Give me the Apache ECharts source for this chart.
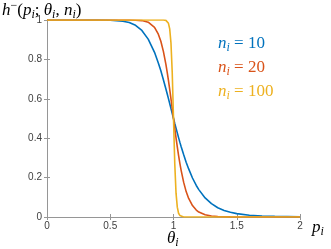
<!DOCTYPE html>
<html><head><meta charset="utf-8">
<script src="https://cdn.jsdelivr.net/npm/echarts@6/dist/echarts.min.js"></script>
<style>html,body{margin:0;padding:0;background:#fff}#c{width:331px;height:249px}</style>
</head><body><div id="c"></div>
<script>
const pVals = [0,0.1,0.2,0.3,0.4,0.5,0.55,0.6,0.65,0.7,0.75,0.8,0.85,0.88,0.9,0.92,0.94,0.95,0.96,0.97,0.98,0.99,1.0,1.01,1.02,1.03,1.04,1.05,1.06,1.08,1.1,1.12,1.15,1.18,1.2,1.25,1.3,1.35,1.4,1.45,1.5,1.6,1.7,1.8,1.9,2.0];
const h10 = [1,1,1,1,1,0.999,0.997,0.994,0.987,0.973,0.947,0.903,0.836,0.782,0.742,0.697,0.650,0.626,0.601,0.576,0.550,0.525,0.5,0.475,0.451,0.427,0.403,0.380,0.358,0.317,0.278,0.244,0.198,0.160,0.139,0.097,0.068,0.047,0.033,0.024,0.017,0.009,0.005,0.003,0.002,0.001];
const h20 = [1,1,1,1,1,1,1,1,1,0.999,0.997,0.989,0.963,0.928,0.892,0.841,0.775,0.736,0.694,0.648,0.600,0.550,0.5,0.450,0.402,0.356,0.313,0.274,0.238,0.177,0.129,0.094,0.058,0.035,0.025,0.011,0.005,0.0025,0.001,0.0006,0.0003,0,0,0,0,0];
const h100 = [1,1,1,1,1,1,1,1,1,1,1,1,1,1,1,1,0.998,0.994,0.983,0.955,0.883,0.732,0.5,0.270,0.121,0.050,0.019,0.008,0.003,0,0,0,0,0,0,0,0,0,0,0,0,0,0,0,0,0];
const seriesNames = ['10','20','100'];
const colors = ['#0072BD','#D95319','#EDB120'];

const chart = echarts.init(document.getElementById('c'), null, {renderer:'canvas'});
const axisLine = {show:true, lineStyle:{color:'#969696', width:1}};
const tick = {show:true, inside:true, length:3, lineStyle:{color:'#969696'}};
const lab = {color:'#404040', fontSize:10, fontFamily:'Liberation Sans, Arial, sans-serif'};
const mathFont = '"Liberation Serif", "DejaVu Serif", serif';

function mathRich(color, size){
  const lh = size+4;
  const sub = Math.round(size*0.68), sup = Math.round(size*0.7);
  return {
    m:{font:'italic '+size+'px '+mathFont, fill:color, lineHeight:lh},
    r:{font:'normal '+size+'px '+mathFont, fill:color, lineHeight:lh},
    s:{font:'italic '+sub+'px '+mathFont, fill:color, lineHeight:lh, verticalAlign:'bottom'},
    u:{font:'normal '+sup+'px '+mathFont, fill:color, lineHeight:lh, verticalAlign:'top'}
  };
}

const series = [h10,h20,h100].map((arr,k)=>({
  type:'line', name:seriesNames[k], showSymbol:false, smooth:false,
  data: pVals.map((p,i)=>[p,arr[i]]),
  lineStyle:{color:colors[k], width:1.6}, itemStyle:{color:colors[k]}, z:2+k
}));

chart.setOption({
  animation:false,
  grid:{left:47, right:31, top:20, bottom:32},
  xAxis:[
    {type:'value', min:0, max:2, interval:0.5, axisLine, axisTick:tick, splitLine:{show:false},
     axisLabel:Object.assign({margin:4, formatter:v=>String(v)}, lab)},
    {type:'value', position:'top', min:0, max:2, interval:0.5, axisLine, axisTick:tick, splitLine:{show:false}, axisLabel:{show:false}}
  ],
  yAxis:[
    {type:'value', min:0, max:1, interval:0.2, axisLine, axisTick:tick, splitLine:{show:false},
     axisLabel:Object.assign({margin:5, formatter:v=>String(+v.toFixed(1))}, lab)},
    {type:'value', position:'right', min:0, max:1, interval:0.2, axisLine, axisTick:tick, splitLine:{show:false}, axisLabel:{show:false}}
  ],
  series: series,
  graphic:[
    {type:'text', left:2, top:0, style:{text:'{m|h}{u|−}{r|(}{m|p}{s|i}{r|; }{m|θ}{s|i}{r|, }{m|n}{s|i}{r|)}', rich:mathRich('#000',17)}},
    {type:'text', left:218, top:35, style:{text:'{m|n}{s|i}{r| = 10}', rich:mathRich(colors[0],17)}},
    {type:'text', left:218, top:59, style:{text:'{m|n}{s|i}{r| = 20}', rich:mathRich(colors[1],17)}},
    {type:'text', left:218, top:83, style:{text:'{m|n}{s|i}{r| = 100}', rich:mathRich(colors[2],17)}},
    {type:'text', left:312, top:219, style:{text:'{m|p}{s|i}', rich:mathRich('#000',17)}},
    {type:'text', left:167, top:230, style:{text:'{m|θ}{s|i}', rich:mathRich('#000',17)}}
  ]
});
</script></body></html>
